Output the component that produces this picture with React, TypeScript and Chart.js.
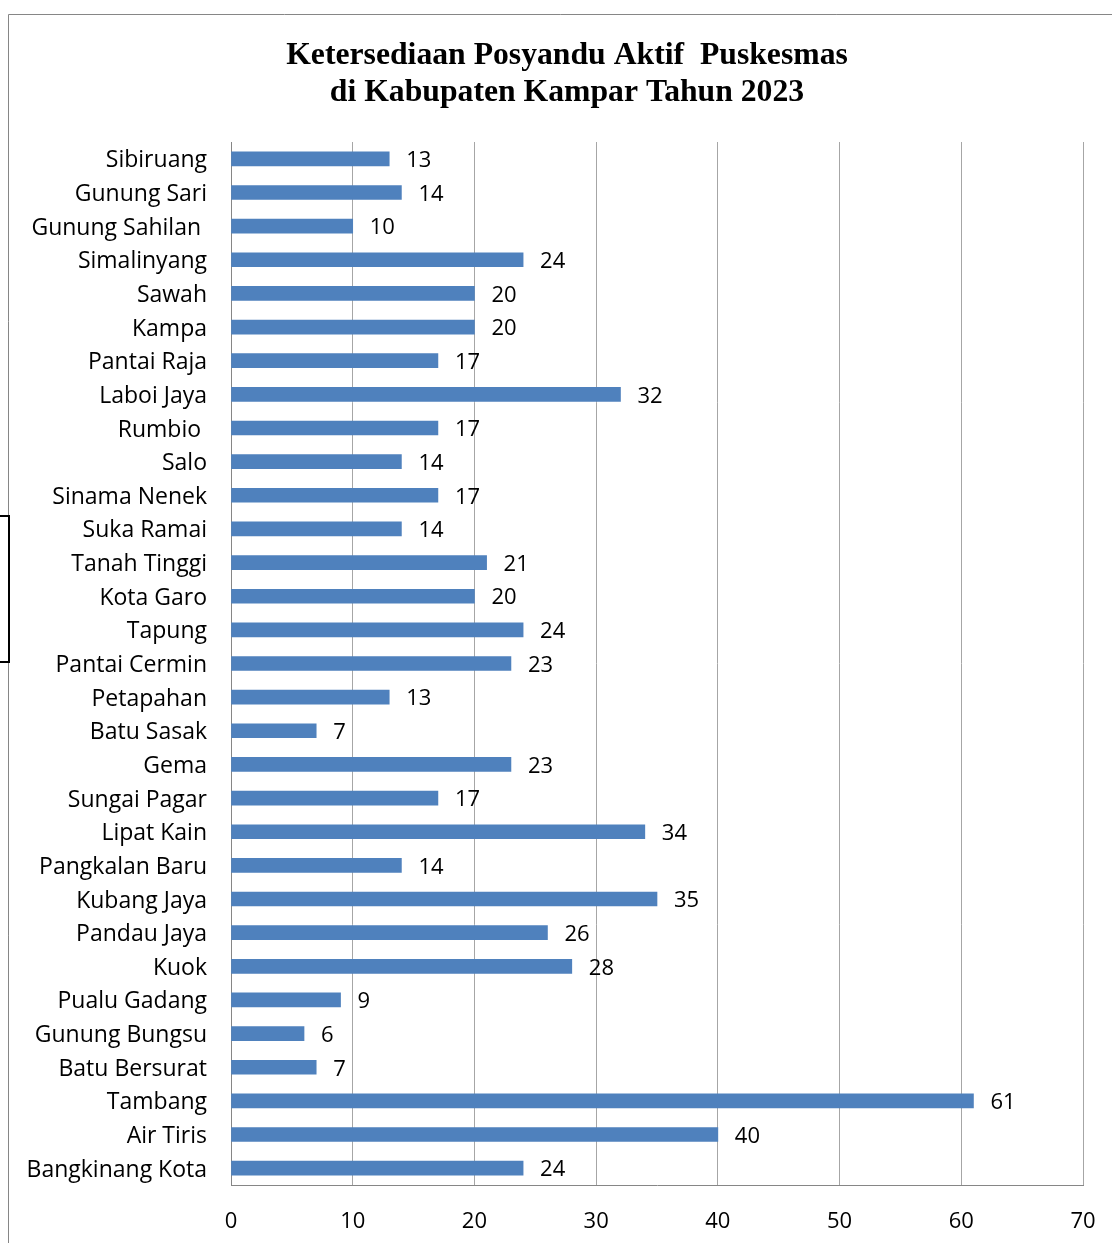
import React, { useEffect, useRef } from "react";
import { Chart, registerables } from "chart.js";

Chart.register(...registerables);

const categories: string[] = [
  "Sibiruang",
  "Gunung Sari",
  "Gunung Sahilan ",
  "Simalinyang",
  "Sawah",
  "Kampa",
  "Pantai Raja",
  "Laboi Jaya",
  "Rumbio ",
  "Salo",
  "Sinama Nenek",
  "Suka Ramai",
  "Tanah Tinggi",
  "Kota Garo",
  "Tapung",
  "Pantai Cermin",
  "Petapahan",
  "Batu Sasak",
  "Gema",
  "Sungai Pagar",
  "Lipat Kain",
  "Pangkalan Baru",
  "Kubang Jaya",
  "Pandau Jaya",
  "Kuok",
  "Pualu Gadang",
  "Gunung Bungsu",
  "Batu Bersurat",
  "Tambang",
  "Air Tiris",
  "Bangkinang Kota",
];

const values: number[] = [
  13, 14, 10, 24, 20, 20, 17, 32, 17, 14, 17, 14, 21, 20, 24, 23, 13, 7, 23, 17,
  34, 14, 35, 26, 28, 9, 6, 7, 61, 40, 24,
];

const titleLines: string[] = [
  "Ketersediaan Posyandu Aktif  Puskesmas",
  "di Kabupaten Kampar Tahun 2023",
];

const xMin = 0;
const xMax = 70;
const xStep = 10;

const W = 1112;
const H = 1243;
const LABEL_FONT = "'Open Sans', 'Noto Sans', sans-serif";

const decorPlugin = {
  id: "decor",
  beforeDraw(chart: any) {
    const ctx = chart.ctx;
    ctx.save();
    ctx.fillStyle = "#ffffff";
    ctx.fillRect(0, 0, chart.width, chart.height);
    // outer frame (top and left only visible)
    ctx.strokeStyle = "#868686";
    ctx.lineWidth = 1;
    ctx.beginPath();
    ctx.moveTo(8.5, H);
    ctx.lineTo(8.5, 14.5);
    ctx.lineTo(W, 14.5);
    ctx.stroke();
    // black bracket at left edge
    ctx.strokeStyle = "#000000";
    ctx.lineWidth = 2;
    ctx.beginPath();
    ctx.moveTo(0, 516);
    ctx.lineTo(9, 516);
    ctx.lineTo(9, 662);
    ctx.lineTo(0, 662);
    ctx.stroke();
    // title
    ctx.fillStyle = "#000000";
    ctx.font = "bold 31.7px 'Liberation Serif', 'Times New Roman', serif";
    ctx.textAlign = "center";
    ctx.textBaseline = "alphabetic";
    ctx.fillText(titleLines[0], 567, 64);
    ctx.fillText(titleLines[1], 567, 101);
    ctx.restore();
  },
  afterDatasetsDraw(chart: any) {
    const ctx = chart.ctx;
    const meta = chart.getDatasetMeta(0);
    ctx.save();
    ctx.fillStyle = "#000000";
    ctx.font = "22px " + LABEL_FONT;
    ctx.textAlign = "left";
    ctx.textBaseline = "middle";
    meta.data.forEach((bar: any, i: number) => {
      ctx.fillText(String(values[i]), bar.x + 17, bar.y + 2);
    });
    ctx.restore();
  },
};

export default function App() {
  const ref = useRef<HTMLCanvasElement | null>(null);

  useEffect(() => {
    document.body.style.margin = "0";
    const canvas = ref.current;
    if (!canvas) return;
    const chart = new Chart(canvas, {
      type: "bar",
      data: {
        labels: categories,
        datasets: [
          {
            data: values,
            backgroundColor: "#4f81bd",
            borderWidth: 0,
            barThickness: 14,
            categoryPercentage: 1,
          },
        ],
      },
      options: {
        indexAxis: "y",
        responsive: false,
        animation: false,
        devicePixelRatio: 1,
        layout: { padding: { top: 142, right: 29, bottom: 0, left: 0 } },
        plugins: {
          legend: { display: false },
          title: { display: false },
          tooltip: { enabled: false },
        },
        scales: {
          x: {
            min: xMin,
            max: xMax,
            afterFit(scale: any) {
              scale.height = 58;
              scale.paddingRight = 0;
              scale.paddingLeft = 0;
            },
            ticks: {
              stepSize: xStep,
              padding: 24,
              color: "#000000",
              font: { size: 22, family: LABEL_FONT },
              maxRotation: 0,
            },
            grid: {
              color: "#a6a6a6",
              lineWidth: 1,
              drawTicks: false,
            },
            border: { display: true, color: "#868686", width: 1 },
          },
          y: {
            afterFit(scale: any) {
              scale.width = 231;
              scale.paddingTop = 0;
              scale.paddingBottom = 0;
            },
            ticks: {
              padding: 24,
              labelOffset: 2,
              color: "#000000",
              font: { size: 23, family: LABEL_FONT },
              autoSkip: false,
            },
            grid: { display: false, drawTicks: false },
            border: { display: true, color: "#868686", width: 1 },
          },
        },
      },
      plugins: [decorPlugin],
    } as any);
    return () => chart.destroy();
  }, []);

  return (
    <canvas
      ref={ref}
      width={W}
      height={H}
      style={{ display: "block", width: W + "px", height: H + "px" }}
    />
  );
}
